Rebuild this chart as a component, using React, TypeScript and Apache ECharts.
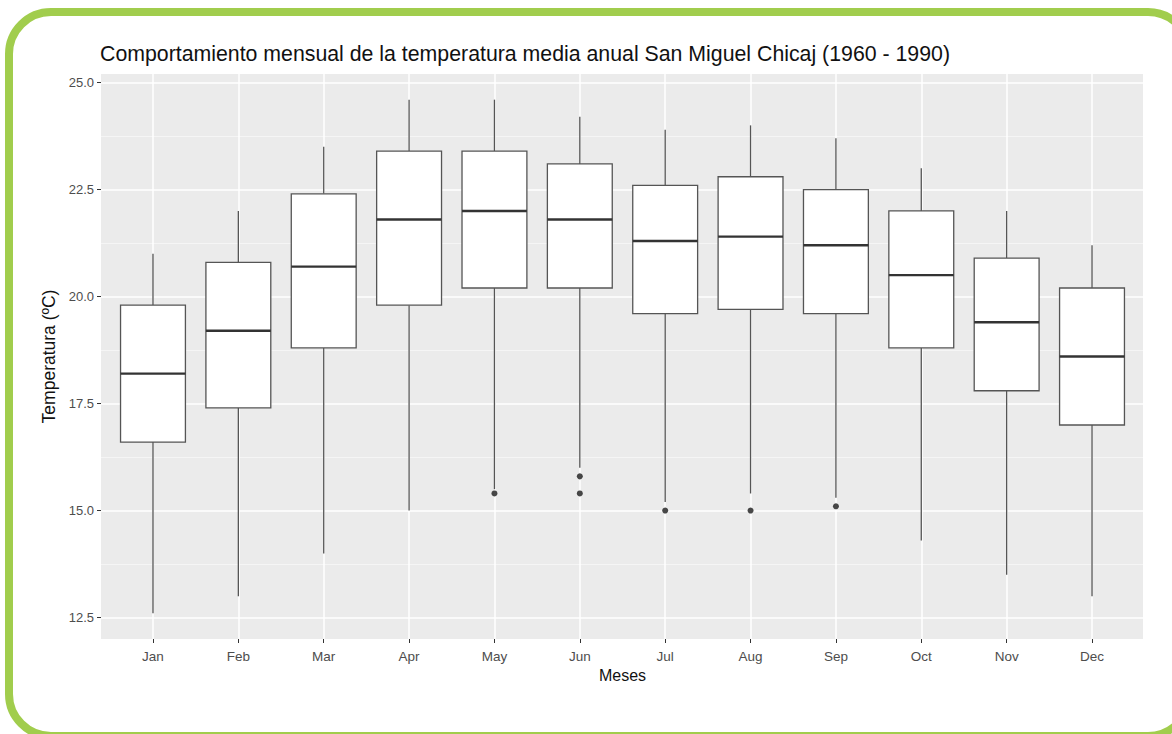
import React, { useEffect, useRef } from "react";
import * as echarts from "echarts";

const months = ["Jan", "Feb", "Mar", "Apr", "May", "Jun", "Jul", "Aug", "Sep", "Oct", "Nov", "Dec"];
const lowerWhisker = [12.6, 13.0, 14.0, 15.0, 15.5, 16.0, 15.2, 15.4, 15.3, 14.3, 13.5, 13.0];
const q1 = [16.6, 17.4, 18.8, 19.8, 20.2, 20.2, 19.6, 19.7, 19.6, 18.8, 17.8, 17.0];
const median = [18.2, 19.2, 20.7, 21.8, 22.0, 21.8, 21.3, 21.4, 21.2, 20.5, 19.4, 18.6];
const q3 = [19.8, 20.8, 22.4, 23.4, 23.4, 23.1, 22.6, 22.8, 22.5, 22.0, 20.9, 20.2];
const upperWhisker = [21.0, 22.0, 23.5, 24.6, 24.6, 24.2, 23.9, 24.0, 23.7, 23.0, 22.0, 21.2];
const outlierMonth = ["May", "Jun", "Jun", "Jul", "Aug", "Sep"];
const outlierValue = [15.4, 15.8, 15.4, 15.0, 15.0, 15.1];
const yTicks = [12.5, 15.0, 17.5, 20.0, 22.5, 25.0];
const yMinor = [13.75, 16.25, 18.75, 21.25, 23.75];

const FONT = "'Liberation Sans', Arial, sans-serif";

export default function App() {
  const ref = useRef<HTMLDivElement>(null);
  useEffect(() => {
    document.body.style.margin = "0";
    const chart = echarts.init(ref.current!, null, { renderer: "svg" });
    const boxData = months.map((m, i) => [i, lowerWhisker[i], q1[i], median[i], q3[i], upperWhisker[i]]);
    const outData = outlierMonth.map((m, i) => [months.indexOf(m), outlierValue[i]]);
    const option: any = {
      animation: false,
      backgroundColor: "#ffffff",
      title: {
        text: "Comportamiento mensual de la temperatura media anual San Miguel Chicaj (1960 - 1990)",
        left: 100,
        top: 43,
        padding: 0,
        textStyle: { fontFamily: FONT, fontSize: 21.3, fontWeight: "normal", color: "#111" },
      },
      grid: [
        { left: 101, top: 74, width: 1042, height: 565, show: true, backgroundColor: "#ebebeb", borderWidth: 0 },
        { left: 110.3, top: 74, width: 1024.4, height: 565, show: false },
      ],
      xAxis: [
        { type: "value", gridIndex: 0, show: false, min: 0, max: 1 },
        {
          type: "category",
          gridIndex: 1,
          data: months,
          boundaryGap: true,
          axisLine: { show: false },
          axisTick: { show: true, alignWithLabel: true, length: 4, lineStyle: { color: "#333", width: 1 } },
          axisLabel: { color: "#4d4d4d", fontFamily: FONT, fontSize: 13.5, margin: 10 },
          splitLine: { show: false },
          name: "Meses",
          nameLocation: "middle",
          nameGap: 28,
          nameTextStyle: { color: "#111", fontFamily: FONT, fontSize: 16 },
        },
      ],
      yAxis: [
        {
          type: "value",
          gridIndex: 0,
          min: 12,
          max: 25.2,
          axisLine: { show: false },
          axisTick: { show: true, length: 4, customValues: yTicks, lineStyle: { color: "#333", width: 1 } },
          axisLabel: {
            color: "#4d4d4d",
            fontFamily: FONT,
            fontSize: 13,
            margin: 7,
            customValues: yTicks,
            formatter: (v: number) => v.toFixed(1),
          },
          splitLine: { show: false },
          name: "Temperatura (ºC)",
          nameLocation: "middle",
          nameGap: 42,
          nameTextStyle: { color: "#111", fontFamily: FONT, fontSize: 17.5 },
        },
        { type: "value", gridIndex: 1, min: 12, max: 25.2, show: false, splitLine: { show: false } },
      ],
      series: [
        {
          type: "line",
          xAxisIndex: 0,
          yAxisIndex: 0,
          data: [[0, 12]],
          showSymbol: false,
          symbol: "none",
          lineStyle: { opacity: 0 },
          silent: true,
          markLine: {
            silent: true,
            symbol: "none",
            z: 1,
            label: { show: false },
            data: [
              ...yMinor.map((v) => ({ yAxis: v, lineStyle: { color: "#f7f7f7", width: 0.8, type: "solid" } })),
              ...yTicks.map((v) => ({ yAxis: v, lineStyle: { color: "#ffffff", width: 1.5, type: "solid" } })),
            ],
          },
        },
        {
          type: "custom",
          xAxisIndex: 1,
          yAxisIndex: 1,
          data: boxData,
          encode: { x: 0, y: [1, 2, 3, 4, 5] },
          z: 3,
          renderItem: (params: any, api: any) => {
            const x = api.value(0);
            const lo = api.coord([x, api.value(1)]);
            const b1 = api.coord([x, api.value(2)]);
            const md = api.coord([x, api.value(3)]);
            const b3 = api.coord([x, api.value(4)]);
            const hi = api.coord([x, api.value(5)]);
            const bw = api.size([1, 0])[0] * 0.76;
            const cx = lo[0];
            return {
              type: "group",
              children: [
                { type: "line", shape: { x1: cx, y1: hi[1], x2: cx, y2: b3[1] }, style: { stroke: "#555", lineWidth: 1.3 } },
                { type: "line", shape: { x1: cx, y1: b1[1], x2: cx, y2: lo[1] }, style: { stroke: "#555", lineWidth: 1.3 } },
                {
                  type: "rect",
                  shape: { x: cx - bw / 2, y: b3[1], width: bw, height: b1[1] - b3[1] },
                  style: { fill: "#ffffff", stroke: "#555", lineWidth: 1.3 },
                },
                { type: "line", shape: { x1: cx - bw / 2, y1: md[1], x2: cx + bw / 2, y2: md[1] }, style: { stroke: "#333", lineWidth: 2.4 } },
              ],
            };
          },
          markLine: {
            silent: true,
            symbol: "none",
            z: 1,
            label: { show: false },
            data: months.map((m) => ({ xAxis: m, lineStyle: { color: "#ffffff", width: 1.5, type: "solid" } })),
          },
        },
        {
          type: "scatter",
          xAxisIndex: 1,
          yAxisIndex: 1,
          data: outData,
          symbol: "circle",
          symbolSize: 6,
          z: 4,
          itemStyle: { color: "#1a1a1a" },
        },
      ],
      graphic: [
        {
          type: "rect",
          z: 100,
          silent: true,
          shape: { x: 9, y: 12, width: 1181, height: 724, r: 42 },
          style: { fill: "none", stroke: "#a1cd4d", lineWidth: 8 },
        },
      ],
    };
    chart.setOption(option);
    return () => chart.dispose();
  }, []);
  return <div ref={ref} style={{ width: 1172, height: 734 }} />;
}
